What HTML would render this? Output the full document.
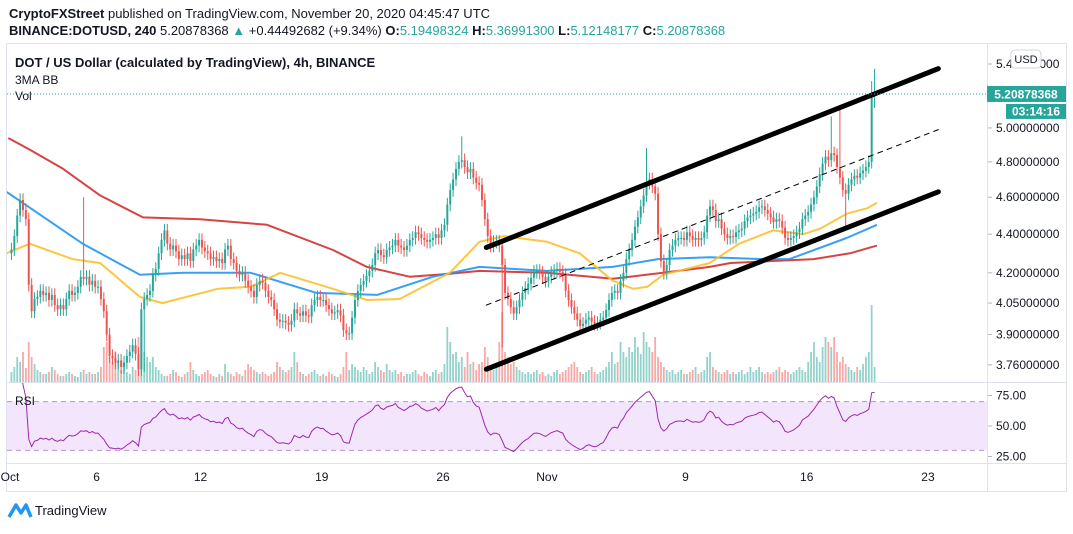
<!DOCTYPE html>
<html><head><meta charset="utf-8">
<style>
body{margin:0;background:#fff;width:1073px;height:529px;overflow:hidden;font-family:"Liberation Sans",sans-serif;}
svg text{font-family:"Liberation Sans",sans-serif;}
</style></head>
<body>
<svg id="chart" width="1073" height="529" viewBox="0 0 1073 529" xmlns="http://www.w3.org/2000/svg">
  <rect x="0" y="0" width="1073" height="529" fill="#fff"/>
  <text x="9" y="18" font-size="13" fill="#131722"><tspan font-weight="bold">CryptoFXStreet</tspan> published on TradingView.com, November 20, 2020 04:45:47 UTC</text>
  <text x="9" y="35" font-size="13" fill="#131722"><tspan font-weight="bold">BINANCE:DOTUSD, 240</tspan> 5.20878368 <tspan fill="#26a69a">▲</tspan> +0.44492682 (+9.34%) <tspan font-weight="bold">O:</tspan><tspan fill="#26a69a">5.19498324</tspan> <tspan font-weight="bold">H:</tspan><tspan fill="#26a69a">5.36991300</tspan> <tspan font-weight="bold">L:</tspan><tspan fill="#26a69a">5.12148177</tspan> <tspan font-weight="bold">C:</tspan><tspan fill="#26a69a">5.20878368</tspan></text>
  <rect x="6.5" y="43.5" width="1060" height="448" fill="none" stroke="#e0e3eb"/>
  <line x1="987.5" y1="44" x2="987.5" y2="491" stroke="#e0e3eb"/>
  <line x1="6" y1="382.5" x2="1066" y2="382.5" stroke="#e0e3eb"/>
  <line x1="6" y1="463.5" x2="1066" y2="463.5" stroke="#e0e3eb"/>
  <defs><clipPath id="mainclip"><rect x="7" y="44" width="980" height="338"/></clipPath>
  <clipPath id="rsiclip"><rect x="7" y="383" width="980" height="80"/></clipPath></defs>
  <g id="vol" clip-path="url(#mainclip)"></g>
  <g id="mas" clip-path="url(#mainclip)"></g>
  <g id="candles" clip-path="url(#mainclip)"></g>
  <g id="channel" clip-path="url(#mainclip)"></g>
  <g id="rsi" clip-path="url(#rsiclip)"></g>
  <g id="axes"></g>
  <text x="15" y="67" font-size="13" font-weight="bold" fill="#131722">DOT / US Dollar (calculated by TradingView), 4h, BINANCE</text>
  <text x="15" y="84" font-size="12" fill="#131722">3MA BB</text>
  <text x="15" y="100" font-size="12" fill="#131722">Vol</text>
  <text x="15" y="405" font-size="12" fill="#131722">RSI</text>
  <g>
    <path d="M9 517 L16 505 L21 513 L26 505 L31 517" fill="none" stroke="#2196f3" stroke-width="3.5" stroke-linejoin="round"/>
    <text x="35" y="515" font-size="13" fill="#131722">TradingView</text>
  </g>
</svg>
<script>
const closes=[4.32,4.39,4.50,4.585,4.53,4.48, 4.14,4.01,4.07,4.08,4.11,4.09, 4.10,4.065,4.09,4.04,4.02,4.04, 4.02,4.07,4.11,4.09,4.10,4.13, 4.18,4.17,4.18,4.14,4.16,4.13,
4.13,4.07,4.01,3.90,3.80,3.79, 3.77,3.78,3.75,3.77,3.80,3.82, 3.85,3.81,3.74,4.02,4.07,4.09, 4.11,4.19,4.22,4.30,4.37,4.42, 4.35,4.32,4.34,4.31,4.27,4.29,
4.27,4.30,4.26,4.32,4.34,4.37, 4.33,4.31,4.30,4.27,4.28,4.26, 4.27,4.25,4.32,4.34,4.27,4.25, 4.21,4.19,4.20,4.16,4.13,4.11, 4.08,4.14,4.16,4.15,4.11,4.08,
4.065,4.02,3.97,3.96,3.965,3.955, 3.945,3.965,4.02,4.00,3.99,4.01, 3.99,3.985,4.04,4.065,4.08,4.065, 4.065,4.04,4.02,4.00,4.005,4.015, 3.99,3.92,3.905,3.905,3.98,4.065,
4.11,4.14,4.16,4.185,4.21,4.24, 4.30,4.317,4.29,4.28,4.317,4.33, 4.34,4.37,4.34,4.33,4.317,4.34, 4.37,4.38,4.41,4.40,4.38,4.37, 4.36,4.37,4.38,4.40,4.38,4.42,
4.45,4.56,4.64,4.70,4.76,4.80, 4.81,4.77,4.74,4.76,4.71,4.68, 4.67,4.585,4.48,4.39,4.34,4.36, 4.36,4.34,4.24,4.10,4.07,4.03, 4.00,4.03,4.065,4.10,4.125,4.145,
4.175,4.205,4.21,4.20,4.18,4.16, 4.18,4.20,4.21,4.22,4.205,4.19, 4.11,4.065,4.03,4.00,3.97,3.94, 3.95,3.97,3.98,3.96,3.95,3.955, 3.97,3.98,4.016,4.065,4.10,4.11,
4.10,4.16,4.20,4.27,4.317,4.37, 4.44,4.49,4.55,4.61,4.68,4.70, 4.66,4.62,4.40,4.26,4.20,4.24, 4.317,4.34,4.37,4.38,4.38,4.37, 4.41,4.39,4.37,4.38,4.37,4.38,
4.41,4.50,4.55,4.53,4.47,4.48, 4.43,4.40,4.38,4.39,4.385,4.41, 4.42,4.43,4.47,4.49,4.50,4.51, 4.52,4.545,4.55,4.53,4.51,4.49, 4.465,4.48,4.47,4.435,4.38,4.37,
4.38,4.39,4.41,4.43,4.48,4.50, 4.52,4.56,4.60,4.66,4.73,4.79, 4.83,4.81,4.85,4.84,4.77,4.71, 4.64,4.62,4.67,4.70,4.72,4.71, 4.735,4.75,4.77,4.80,5.195,5.2088];
const firstOpen=4.30;
const spikeHighs=[[25,4.60],[156,4.95],[220,4.88],[284,5.07],[287,5.14],[298,5.29],[299,5.3699]];
const spikeLows=[[46,3.73],[170,3.84],[289,4.43],[299,5.1215]];
const volumes=[10,15,25,20,30,14, 40,25,18,12,10,8, 8,10,15,12,8,6, 6,8,10,8,6,5, 10,12,8,10,8,8,
10,15,35,40,25,20, 30,20,12,15,10,8, 15,12,45,60,30,25, 20,25,15,12,8,6, 6,8,12,10,6,5,
8,10,20,12,8,6, 8,10,12,8,6,5, 8,6,18,10,8,6, 10,8,6,12,18,15, 12,10,8,10,8,6,
8,10,20,15,12,10, 12,15,30,20,10,8, 6,8,10,12,8,6, 8,6,10,8,6,5, 8,15,30,12,18,15,
12,10,15,12,8,10, 20,15,12,10,18,12, 10,12,8,10,6,8, 8,10,12,8,6,10, 8,6,10,12,8,10,
18,55,40,28,30,20, 25,15,30,18,20,12, 18,20,35,25,15,12, 15,40,70,30,25,18, 20,15,12,10,8,10,
8,10,12,8,10,6, 8,6,10,12,8,10, 12,15,18,20,15,10, 8,10,12,15,10,8, 10,12,15,20,30,18,
20,40,30,25,35,30, 45,35,28,50,40,35, 30,45,25,20,15,12, 10,12,8,10,12,8, 8,10,12,15,8,10,
12,25,30,15,12,10, 8,10,12,8,10,8, 10,12,8,10,15,10, 12,15,10,8,10,8, 10,12,15,10,12,10,
8,10,12,15,12,10, 20,30,40,25,20,35, 45,40,35,45,30,20, 25,18,15,12,10,15, 12,18,25,30,77,15];
const maRedDays=[-0.1,1.15,3.06,5.2,7.68,10.97,14.84,18.65,20.6,23.1,25.4,27.1,31.0,34.8,37.7,40.4,41.6,46.4,48.5,50.06];
const maRedVals=[4.94,4.87,4.76,4.61,4.49,4.48,4.45,4.317,4.23,4.18,4.195,4.21,4.20,4.17,4.20,4.23,4.25,4.27,4.30,4.34];
const maBlueDays=[-0.2,4.2,7.5,10,13.9,17.7,21.2,24.4,27.1,31,34.8,37.4,40.4,43.5,45,48.3,50.06];
const maBlueVals=[4.63,4.35,4.19,4.20,4.20,4.10,4.09,4.18,4.23,4.21,4.23,4.27,4.28,4.27,4.27,4.38,4.45];
const maYellowDays=[-0.2,1.15,3.6,5.2,7.5,8.8,12,13.9,15.6,18.65,20.6,22.5,25.4,27.1,28.5,31,32.9,34.8,36,36.8,37.7,40.4,42.1,44.05,45.8,46.8,48.3,49.5,50.06];
const maYellowVals=[4.30,4.35,4.27,4.25,4.08,4.05,4.12,4.13,4.20,4.12,4.065,4.07,4.20,4.36,4.39,4.36,4.30,4.16,4.12,4.13,4.19,4.25,4.35,4.42,4.40,4.43,4.51,4.54,4.57];
const channelDays=[27.5,53.6];
const channelUpper=[4.33,5.37];
const channelMid=[4.04,4.99];
const channelLower=[3.74,4.63];
const priceTicks=[5.4,5.0,4.8,4.6,4.4,4.2,4.05,3.9,3.76];
const rsiTicks=[75,50,25];
const timeLabels=["Oct","6","12","19","26","Nov","9","16","23"];
const timeLabelDays=[0,5,11,18,25,31,39,46,53];
const lastPrice=5.20878368;

const NS="http://www.w3.org/2000/svg";
const PX_PER_DAY=17.32, X0=10;
function xDay(d){return X0+d*PX_PER_DAY;}
function xIdx(i){return xDay((i+0.5)/6);}
function yP(p){return 64+(Math.log(5.4)-Math.log(p))*831;}
function yR(r){return 426-(r-50)*1.22;}
function mk(tag,attrs,parent){const e=document.createElementNS(NS,tag);for(const k in attrs)e.setAttribute(k,attrs[k]);parent.appendChild(e);return e;}

const gVol=document.getElementById('vol'),gC=document.getElementById('candles'),gM=document.getElementById('mas'),gCh=document.getElementById('channel'),gR=document.getElementById('rsi'),gA=document.getElementById('axes');
const hiMap={},loMap={};
spikeHighs.forEach(s=>hiMap[s[0]]=s[1]);spikeLows.forEach(s=>loMap[s[0]]=s[1]);
const opens=closes.map((c,i)=>i===0?firstOpen:closes[i-1]);
opens[299]=5.19498324;
for(let i=0;i<closes.length;i++){
  const o=opens[i],c=closes[i],up=c>=o;
  const col=up?'#26a69a':'#ef5350';
  const hi=hiMap[i]!==undefined?hiMap[i]:Math.max(o,c)*1.008;
  const lo=loMap[i]!==undefined?loMap[i]:Math.min(o,c)*0.992;
  const x=xIdx(i);
  const v=mk('rect',{x:x-0.9,y:382-volumes[i],width:1.8,height:volumes[i],fill:up?'#92d2cc':'#f7a9a7'},gVol);
  
  
  const w=mk('line',{x1:x,x2:x,y1:yP(hi),y2:yP(lo),stroke:col,'stroke-width':1},gC);
  
  
  const top=yP(Math.max(o,c)),bot=yP(Math.min(o,c));
  const b=mk('rect',{x:x-1,y:top,width:2,height:Math.max(1,bot-top),fill:col},gC);
  
  
}
function maPath(days,vals,color,name){
  let d='';
  days.forEach((dd,k)=>{d+=(k?'L':'M')+xDay(dd).toFixed(1)+' '+yP(vals[k]).toFixed(1);});
  const p=mk('path',{d:d,fill:'none',stroke:color,'stroke-width':2,'stroke-linejoin':'round',opacity:0.9},gM);
  
  
}
maPath(maRedDays,maRedVals,'#d32f2f','ma-red');
maPath(maBlueDays,maBlueVals,'#2196f3','ma-blue');
maPath(maYellowDays,maYellowVals,'#fbc02d','ma-yellow');

function chLine(vals,w,dash,name){
  const l=mk('line',{x1:xDay(channelDays[0]),y1:yP(vals[0]),x2:xDay(channelDays[1]),y2:yP(vals[1]),stroke:'#000','stroke-width':w,'stroke-linecap':'round'},gCh);
  if(dash)l.setAttribute('stroke-dasharray',dash);
  
  
}
chLine(channelUpper,5,null,'channel-upper-line');
chLine(channelLower,5,null,'channel-lower-line');
chLine(channelMid,1,'5,5','channel-mid-line');

const lp=mk('line',{x1:7,x2:987,y1:yP(lastPrice),y2:yP(lastPrice),stroke:'#26a69a','stroke-width':1,'stroke-dasharray':'1,2'},gA);



const band=mk('rect',{x:7,y:yR(70),width:980,height:yR(30)-yR(70),fill:'#f3e5fc'},gR);


[70,30].forEach(l=>{
  const ln=mk('line',{x1:7,x2:987,y1:yR(l),y2:yR(l),stroke:'#b59ac4','stroke-dasharray':'5,4'},gR);
  
  
});
// RSI computed from closes (Wilder smoothing)
const rsi=[];let ag=0,al=0;const N=22;
for(let i=0;i<closes.length;i++){
  const ch=closes[i]-opens[i];const g=Math.max(ch,0),lo=Math.max(-ch,0);
  if(i<N){ag+=g/N;al+=lo/N;}else{ag=(ag*(N-1)+g)/N;al=(al*(N-1)+lo)/N;}
  rsi.push(al===0?100:100-100/(1+ag/al));
}
let rd='';rsi.forEach((r,i)=>{rd+=(i?'L':'M')+xIdx(i).toFixed(1)+' '+yR(r).toFixed(1);});
const rp=mk('path',{d:rd,fill:'none',stroke:'#9c27b0','stroke-width':1},gR);



priceTicks.forEach(p=>{
  const y=yP(p);
  mk('line',{x1:988,x2:992,y1:y,y2:y,stroke:'#b2b5be'},gA);
  const t=mk('text',{x:996,y:y+4,'font-size':12,fill:'#131722'},gA);
  t.textContent=p.toFixed(8);
  
  
});
rsiTicks.forEach(r=>{
  const y=yR(r);
  mk('line',{x1:988,x2:992,y1:y,y2:y,stroke:'#b2b5be'},gA);
  const t=mk('text',{x:996,y:y+4,'font-size':12,fill:'#131722'},gA);
  t.textContent=r.toFixed(2);
  
  
});
timeLabels.forEach((lb,k)=>{
  const t=mk('text',{x:xDay(timeLabelDays[k]),y:481,'font-size':12,fill:'#131722','text-anchor':'middle'},gA);
  t.textContent=lb;
  
  
});
const ly=yP(lastPrice);
const tag=mk('rect',{x:987,y:ly-8,width:79,height:16,fill:'#26a69a'},gA);


const tt=mk('text',{x:1026,y:ly+4.5,'font-size':12,'font-weight':'bold',fill:'#fff','text-anchor':'middle'},gA);
tt.textContent=lastPrice.toFixed(8);


const cd=mk('rect',{x:1006,y:ly+10,width:60,height:15,fill:'#26a69a'},gA);


const ct=mk('text',{x:1036,y:ly+21.5,'font-size':12,'font-weight':'bold',fill:'#fff','text-anchor':'middle'},gA);
ct.textContent='03:14:16';


const ub=mk('rect',{x:1011,y:50,width:30,height:18,rx:4,fill:'#fff',stroke:'#d1d4dc'},gA);


const ut=mk('text',{x:1026,y:63,'font-size':11,fill:'#131722','text-anchor':'middle'},gA);
ut.textContent='USD';


</script>
</body></html>
